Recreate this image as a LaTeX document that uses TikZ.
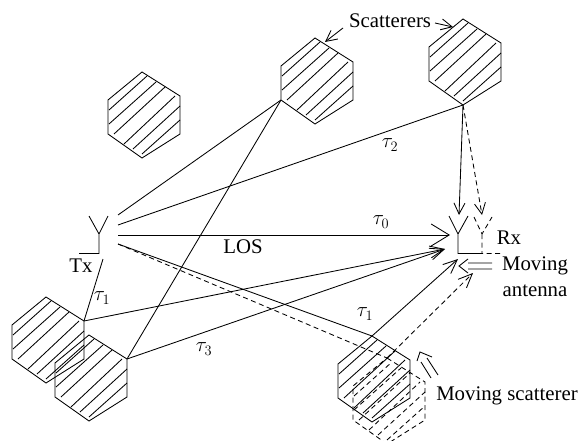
\documentclass[tikz,border=0pt]{standalone}
\usepackage{fontspec}
\setmainfont{Liberation Serif}
\usetikzlibrary{arrows.meta}
\tikzset{
  x=1pt,y=-1pt,
  ln/.style={line width=0.85pt,line join=miter},
  dsh/.style={ln,dash pattern=on 5pt off 3.5pt},
  tipA/.style={-{Straight Barb[length=14pt,width=12pt,line width=0.85pt]}},
  tipB/.style={-{Straight Barb[length=18pt,width=22pt,line width=0.85pt]}},
  tipC/.style={-{Straight Barb[length=11pt,width=11pt,line width=0.85pt]}},
  lab/.style={font=\fontsize{20.8}{24}\selectfont,inner sep=0pt,text=black},
  mlab/.style={font=\fontsize{21}{24}\selectfont,inner sep=0pt,text=black},
  pics/hex/.style={code={
    \coordinate (-t) at (0,0);
    \coordinate (-ru) at (38,24);
    \coordinate (-rl) at (38,62);
    \coordinate (-b) at (0,86);
    \coordinate (-ll) at (-34,62);
    \coordinate (-lu) at (-34,28);
    \draw[#1] (-t)--(-ru)--(-rl)--(-b)--(-ll)--(-lu)--cycle;
    \draw[#1] (-33,38)--(5,4);
    \draw[#1] (-33,52)--(14,10);
    \draw[#1] (-28,62)--(23,15);
    \draw[#1] (-18,72)--(33,24);
    \draw[#1] (-9,77)--(38,34);
    \draw[#1] (0,82)--(38,48);
  }}
}
\begin{document}
\begin{tikzpicture}
\useasboundingbox (0,0) rectangle (580,441);
\clip (0,0) rectangle (580,441);
% scatterers
\pic (ha) at (142,72) {hex=ln};
\pic (hb) at (315,38) {hex=ln};
\pic (hc) at (463,19) {hex=ln};
\pic (hd) at (46,297) {hex=ln};
\pic (he) at (89,335) {hex=ln};
\pic (hf) at (372,336) {hex=ln};
\pic (hg) at (387,358) {hex=dsh};
% Tx antenna
\coordinate (txL) at (89,216);
\coordinate (txR) at (108,216);
\coordinate (txJ) at (99,234);
\coordinate (txB) at (99,253.5);
\coordinate (txF) at (79,253.5);
\draw[ln] (txL)--(txJ)--(txR) (txJ)--(txB)--(txF);
% Rx antenna
\coordinate (rxL) at (449,216);
\coordinate (rxR) at (468,216);
\coordinate (rxJ) at (458,234);
\coordinate (rxB) at (458,253.5);
\coordinate (rxF) at (478,253.5);
\draw[ln] (rxL)--(rxJ)--(rxR) (rxJ)--(rxB)--(rxF);
% moved Rx antenna
\coordinate (dxL) at (474,217);
\coordinate (dxR) at (492,217);
\coordinate (dxJ) at (482,234);
\coordinate (dxB) at (482,253.5);
\coordinate (dxF) at (503,253.5);
\draw[dsh] (dxL)--(dxJ)--(dxR) (dxJ)--(dxB) (rxF)--(dxF);
% ray origins and ends
\coordinate (s1) at (118,215);
\coordinate (s2) at (118,225);
\coordinate (s3) at (118,235);
\coordinate (s4) at (118,244);
\coordinate (s5) at (103,259);
\coordinate (e0) at (450,235);
\coordinate (e1) at (445,249);
\coordinate (e2) at (458,259);
\coordinate (e3) at (473,273);
\coordinate (e4) at (459,215);
\coordinate (e5) at (482,215);
% rays
\draw[ln] (s1)--(hb-ll);
\draw[ln] (s2)--(hc-b);
\draw[ln,tipB] (s3)--(e0);
\draw[ln] (s4)--(hf-t);
\draw[dsh] (s4)--(hg-t);
\draw[ln] (s5)--(hd-ru);
\draw[ln,tipA] (hd-ru)--(e1);
\draw[ln,tipA] (he-ru)--(e1);
\draw[ln] (he-ru)--(hb-ll);
\draw[ln,tipA] (hf-t)--(e2);
\draw[dsh,tipA] (hg-t)--(e3);
\draw[ln,tipC] (hc-b)--(e4);
\draw[dsh,tipC] (hc-b)--(e5);
% labels
\node[lab] (scat) at (390,21) {Scatterers};
\node[lab] (tx) at (81,266) {Tx};
\node[lab] (rx) at (509,238) {Rx};
\node[lab] (los) at (243,247) {LOS};
\node[lab] (mv) at (535,266) {Moving};
\node[lab] (ant) at (535,291) {antenna};
\node[lab] (ms) at (507,396) {Moving scatterer};
\node[mlab] (t0) at (381,222) {$\tau_0$};
\node[mlab] (t1a) at (102,298) {$\tau_1$};
\node[mlab] (t1b) at (365,314) {$\tau_1$};
\node[mlab] (t2) at (390,145) {$\tau_2$};
\node[mlab] (t3) at (204,349) {$\tau_3$};
% scatterer callouts
\coordinate (ca) at (343,28);
\coordinate (cb) at (325,42);
\coordinate (cc) at (435,23);
\coordinate (cd) at (453,27);
\draw[ln,tipC] (ca)--(cb);
\draw[ln,tipC] (cc)--(cd);
% moving antenna arrow
\coordinate (ma1) at (492,263);
\coordinate (ma2) at (468,263);
\coordinate (ma3) at (492,269);
\coordinate (ma4) at (468,269);
\coordinate (mt) at (459,266);
\coordinate (mu) at (468,259);
\coordinate (md) at (468,273);
\draw[ln] (ma1)--(ma2) (ma3)--(ma4) (mu)--(mt)--(md);
% moving scatterer arrow
\coordinate (mb1) at (431,378);
\coordinate (mb2) at (421,362);
\coordinate (mb3) at (438,375);
\coordinate (mb4) at (427,358);
\coordinate (mb5) at (417,361);
\coordinate (mb6) at (420,352);
\coordinate (mb7) at (432,357);
\draw[ln] (mb1)--(mb2) (mb3)--(mb4) (mb5)--(mb6)--(mb7);
\end{tikzpicture}
\end{document}
